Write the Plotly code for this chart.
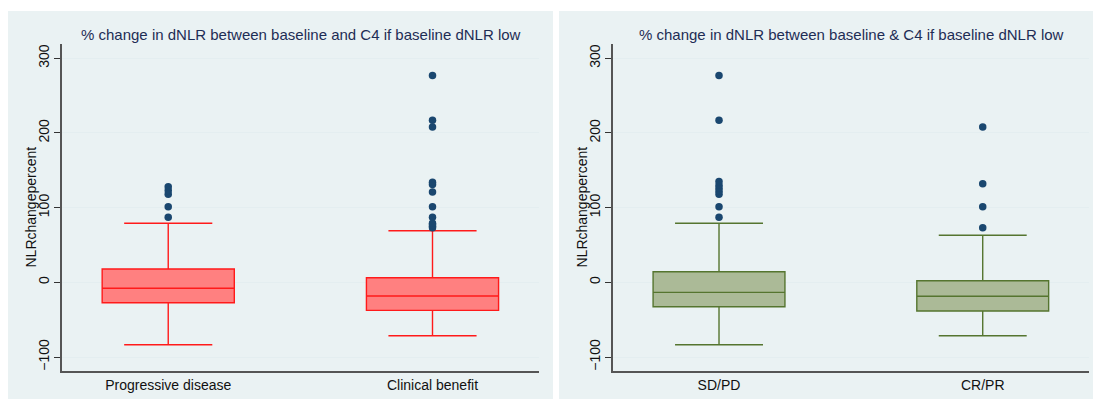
import plotly.graph_objects as go

W, H = 1093, 401

# ---- data ----
left_cats = ["Progressive disease", "Clinical benefit"]
left_q1 = [-27.3, -37.5]
left_median = [-8.0, -18.3]
left_q3 = [17.8, 6.2]
left_lower = [-83.5, -71.5]
left_upper = [79.0, 69.0]
left_out_pd = [87, 101, 118, 123, 128]
left_out_cb = [73, 75, 77, 79, 87, 101, 121, 131, 134, 208, 217, 277]

right_cats = ["SD/PD", "CR/PR"]
right_q1 = [-32.6, -38.4]
right_median = [-13.4, -18.7]
right_q3 = [14.2, 2.2]
right_lower = [-83.5, -71.5]
right_upper = [79.0, 63.0]
right_out_sd = [87, 101, 118, 122, 126, 130, 135, 217, 277]
right_out_cr = [73, 101, 132, 208]

titles = ["% change in dNLR between baseline and C4 if baseline dNLR low",
          "% change in dNLR between baseline & C4 if baseline dNLR low"]
ytitle = "NLRchangepercent"
yticks = [-100, 0, 100, 200, 300]

FONT = "Liberation Sans, Arial, Helvetica, sans-serif"
MARK = "#1a476f"

fig = go.Figure()

def add_panel(cats, q1, med, q3, lo, up, outs, fill, line, xa, ya):
    fig.add_trace(go.Box(
        x=cats, q1=q1, median=med, q3=q3, lowerfence=lo, upperfence=up,
        fillcolor=fill, line=dict(color=line, width=1.4),
        width=0.5, whiskerwidth=0.667, boxpoints=False,
        xaxis=xa, yaxis=ya, showlegend=False, hoverinfo="skip"))
    for c, vals in zip(cats, outs):
        fig.add_trace(go.Scatter(
            x=[c] * len(vals), y=vals, mode="markers",
            marker=dict(color=MARK, size=7.5),
            xaxis=xa, yaxis=ya, showlegend=False, hoverinfo="skip"))

add_panel(left_cats, left_q1, left_median, left_q3, left_lower, left_upper,
          [left_out_pd, left_out_cb], "#ff8080", "#ff1a1a", "x", "y")
add_panel(right_cats, right_q1, right_median, right_q3, right_lower, right_upper,
          [right_out_sd, right_out_cr], "#abba97", "#55752f", "x2", "y2")

ydom = [1 - 371 / H, 1 - 44 / H]
xdoms = [[62 / W, 539 / W], [613 / W, 1089 / W]]
yrange = [-118.7, 319]

yax = dict(range=yrange, tickvals=yticks, tickangle=-90,
           ticks="outside", ticklen=6, tickcolor="#333", tickwidth=1,
           showgrid=True, gridcolor="#e4eef0", gridwidth=1, zeroline=False,
           showline=True, linecolor="#555", linewidth=1.5,
           tickfont=dict(size=14, color="#111", family=FONT),
           automargin=False, domain=ydom, fixedrange=True)
xax = dict(type="category", range=[-0.402, 1.403], ticks="",
           showgrid=False, zeroline=False, showline=True,
           linecolor="#555", linewidth=1.5,
           tickfont=dict(size=14, color="#111", family=FONT),
           automargin=False, fixedrange=True)

ann = []
for i, (x0, x1) in enumerate([(62, 539), (613, 1089)]):
    ann.append(dict(text=titles[i], xref="paper", yref="paper",
                    x=(x0 + x1) / 2 / W, y=1 - 34 / H, showarrow=False,
                    xanchor="center", yanchor="middle",
                    font=dict(size=15, color="#1e2d55", family=FONT)))
    ann.append(dict(text=ytitle, xref="paper", yref="paper",
                    x=(x0 - 32) / W, y=1 - 207.5 / H, showarrow=False,
                    textangle=-90, xanchor="center", yanchor="middle",
                    font=dict(size=14, color="#111", family=FONT)))

fig.update_layout(
    width=W, height=H,
    margin=dict(l=0, r=0, t=0, b=0),
    paper_bgcolor="white", plot_bgcolor="white",
    font=dict(family=FONT),
    xaxis=dict(xax, domain=xdoms[0], anchor="y"),
    yaxis=dict(yax, anchor="x"),
    xaxis2=dict(xax, domain=xdoms[1], anchor="y2"),
    yaxis2=dict(yax, anchor="x2"),
    shapes=[
        dict(type="rect", xref="paper", yref="paper", layer="below",
             x0=8 / W, x1=553 / W, y0=1 - 399 / H, y1=1 - 11 / H,
             fillcolor="#eaf2f3", line=dict(width=0)),
        dict(type="rect", xref="paper", yref="paper", layer="below",
             x0=559 / W, x1=1.01, y0=1 - 399 / H, y1=1 - 11 / H,
             fillcolor="#eaf2f3", line=dict(width=0)),
    ],
    annotations=ann,
)

fig.write_html("out.html")
